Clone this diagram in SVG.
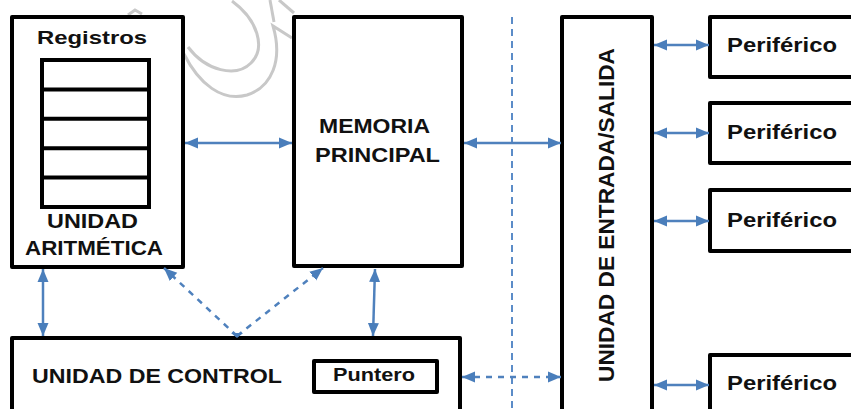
<svg xmlns="http://www.w3.org/2000/svg" width="851" height="409" viewBox="0 0 851 409">
<style>
.box{fill:#fff;stroke:#000;stroke-width:4;stroke-linejoin:round}
.reg{fill:none;stroke:#000;stroke-width:4}
.t{font-family:"Liberation Sans",Arial,sans-serif;font-weight:bold;fill:#111}
.c{stroke:#4f81bd;stroke-width:2.5;fill:none;marker-start:url(#ah);marker-end:url(#ah)}
.d{stroke-dasharray:6 6}
.wm{fill:none;stroke:#c8c8c8;stroke-width:3}
</style>
<defs>
<marker id="ah" markerUnits="userSpaceOnUse" markerWidth="14" markerHeight="12" refX="13" refY="6" orient="auto-start-reverse">
<path d="M0,0.5 L13,6 L0,11.5 z" fill="#4a7ebb"/>
</marker>
</defs>
<rect width="851" height="409" fill="#fff"/>
<g id="watermark">
<path class="wm" d="M128 15 L135 10 L142 14"/>
<path class="wm" d="M184 54 C199 84 222 102 247 95 C272 87 283 60 273 26 L292 38"/>
<path class="wm" d="M232 1 C258 20 266 48 251 63 C236 78 206 71 188 47"/>
<path class="wm" d="M270 0 L274 22"/>
<path class="wm" d="M279 0 L294 13"/>
</g>
<line x1="512" y1="17" x2="512" y2="409" stroke="#5b8cc8" stroke-width="2" stroke-dasharray="7 5"/>
<g id="alu">
<rect class="box" x="12" y="17" width="171" height="250"/>
<rect class="reg" x="42" y="60" width="107" height="147"/>
<path class="reg" d="M42 89.4H149M42 118.8H149M42 148.2H149M42 177.6H149"/>
<text class="t" x="37" y="44" font-size="19" textLength="110" lengthAdjust="spacingAndGlyphs">Registros</text>
<text class="t" x="47" y="228" font-size="21" textLength="91" lengthAdjust="spacingAndGlyphs">UNIDAD</text>
<text class="t" x="25" y="255" font-size="21" textLength="138" lengthAdjust="spacingAndGlyphs">ARITMÉTICA</text>
</g>
<g id="memoria">
<rect class="box" x="294" y="17" width="168" height="249"/>
<text class="t" x="319" y="133" font-size="21" textLength="111" lengthAdjust="spacingAndGlyphs">MEMORIA</text>
<text class="t" x="315" y="162" font-size="21" textLength="125" lengthAdjust="spacingAndGlyphs">PRINCIPAL</text>
</g>
<g id="es">
<rect class="box" x="562" y="17" width="90" height="410"/>
<text class="t" transform="translate(614,382) rotate(-90)" x="0" y="0" font-size="22" textLength="334" lengthAdjust="spacingAndGlyphs">UNIDAD DE ENTRADA/SALIDA</text>
</g>
<g id="periferico1">
<rect class="box" x="710" y="17" width="160" height="60"/>
<text class="t" x="727" y="52" font-size="20" textLength="110" lengthAdjust="spacingAndGlyphs">Periférico</text>
</g>
<g id="periferico2">
<rect class="box" x="710" y="103" width="160" height="60"/>
<text class="t" x="727" y="139" font-size="20" textLength="110" lengthAdjust="spacingAndGlyphs">Periférico</text>
</g>
<g id="periferico3">
<rect class="box" x="710" y="190" width="160" height="61"/>
<text class="t" x="727" y="227" font-size="20" textLength="110" lengthAdjust="spacingAndGlyphs">Periférico</text>
</g>
<g id="periferico4">
<rect class="box" x="710" y="355" width="160" height="70"/>
<text class="t" x="727" y="390" font-size="20" textLength="110" lengthAdjust="spacingAndGlyphs">Periférico</text>
</g>
<g id="control">
<rect class="box" x="12" y="338" width="448" height="100"/>
<text class="t" x="32" y="383" font-size="21" textLength="250" lengthAdjust="spacingAndGlyphs">UNIDAD DE CONTROL</text>
</g>
<g id="puntero">
<rect class="box" x="314" y="361" width="123" height="31" stroke-width="3.5"/>
<text class="t" x="333" y="381" font-size="18" textLength="82" lengthAdjust="spacingAndGlyphs">Puntero</text>
</g>
<g id="connectors">
<line class="c" x1="185" y1="143" x2="292" y2="143"/>
<line class="c" x1="464" y1="143" x2="561" y2="143"/>
<line class="c" x1="654" y1="45" x2="709" y2="45"/>
<line class="c" x1="654" y1="133" x2="709" y2="133"/>
<line class="c" x1="654" y1="221" x2="709" y2="221"/>
<line class="c" x1="654" y1="385" x2="709" y2="385"/>
<line class="c" x1="43" y1="269" x2="43" y2="336"/>
<line class="c" x1="375" y1="269" x2="373" y2="336"/>
<line class="c d" x1="462" y1="377" x2="561" y2="377"/>
<path d="M237 336 L164 268" stroke="#4f81bd" stroke-width="2.5" stroke-dasharray="6 6" fill="none" marker-end="url(#ah)"/>
<path d="M237 336 L323 268" stroke="#4f81bd" stroke-width="2.5" stroke-dasharray="6 6" fill="none" marker-end="url(#ah)"/>
<path d="M231 333 L237 338 L243 333" fill="#4a7ebb"/>
</g>
</svg>
